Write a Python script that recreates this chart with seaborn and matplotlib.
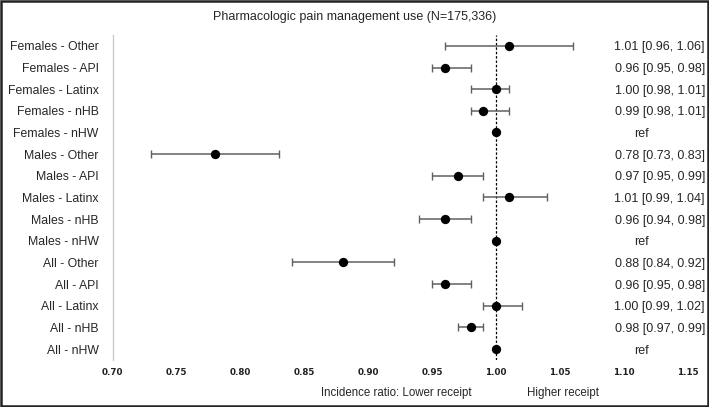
import numpy as np
import pandas as pd
import matplotlib
matplotlib.use("Agg")
import matplotlib.pyplot as plt
import matplotlib.transforms as mtransforms
import seaborn as sns

labels = ['Females - Other', 'Females - API', 'Females - Latinx', 'Females - nHB', 'Females - nHW',
          'Males - Other', 'Males - API', 'Males - Latinx', 'Males - nHB', 'Males - nHW',
          'All - Other', 'All - API', 'All - Latinx', 'All - nHB', 'All - nHW']
ratio = [1.01, 0.96, 1.00, 0.99, 1.00, 0.78, 0.97, 1.01, 0.96, 1.00, 0.88, 0.96, 1.00, 0.98, 1.00]
lower = [0.96, 0.95, 0.98, 0.98, np.nan, 0.73, 0.95, 0.99, 0.94, np.nan, 0.84, 0.95, 0.99, 0.97, np.nan]
upper = [1.06, 0.98, 1.01, 1.01, np.nan, 0.83, 0.99, 1.04, 0.98, np.nan, 0.92, 0.98, 1.02, 0.99, np.nan]
xticks = [0.70, 0.75, 0.80, 0.85, 0.90, 0.95, 1.00, 1.05, 1.10, 1.15]

df = pd.DataFrame({'label': labels, 'ratio': ratio, 'lower': lower, 'upper': upper})
df['row'] = np.arange(len(df))

sns.set_style("white")
plt.rcParams['font.family'] = ['Liberation Sans', 'DejaVu Sans']

fig = plt.figure(figsize=(7.09, 4.07), dpi=100)
ax = fig.add_axes([0.159, 0.1155, 0.811, 0.7985])

# confidence intervals
ci = df.dropna()
ax.errorbar(ci['ratio'], ci['row'],
            xerr=[ci['ratio'] - ci['lower'], ci['upper'] - ci['ratio']],
            fmt='none', ecolor='#606060', elinewidth=1.1, capsize=3, capthick=1, zorder=2)
ax.axvline(1.0, color='black', linestyle=(0, (2, 1.5)), linewidth=0.9, zorder=1)
sns.scatterplot(data=df, x='ratio', y='row', color='black', s=45, edgecolor='black',
                linewidth=0, ax=ax, zorder=3)

ax.set_xlim(0.70, 1.15)
ax.set_ylim(14.5, -0.5)
ax.set_xticks(xticks)
ax.set_xticklabels([f'{t:.2f}' for t in xticks], fontsize=6.3, fontweight='bold',
                   family='DejaVu Sans', color='#222222')
ax.set_yticks(df['row'])
ax.set_yticklabels(df['label'], fontsize=8.8)
ax.tick_params(axis='x', length=0, pad=6)
ax.tick_params(axis='y', length=0, pad=10)
ax.set_xlabel('')
ax.set_ylabel('')
for side in ['top', 'right', 'bottom']:
    ax.spines[side].set_visible(False)
ax.spines['left'].set_color('#cccccc')
ax.spines['left'].set_linewidth(1)

# estimate text on the right
trans = mtransforms.blended_transform_factory(fig.transFigure, ax.transData)
for _, r in df.iterrows():
    if np.isnan(r['lower']):
        ax.text(641 / 709, r['row'], 'ref', transform=trans, ha='center',
                va='center_baseline', fontsize=9)
    else:
        txt = f"{r['ratio']:.2f} [{r['lower']:.2f}, {r['upper']:.2f}]"
        ax.text(705 / 709, r['row'], txt, transform=trans, ha='right',
                va='center_baseline', fontsize=9)

fig.text(355 / 709, 1 - 17 / 407, 'Pharmacologic pain management use (N=175,336)',
         ha='center', va='center', fontsize=9)
fig.text(472 / 709, 1 - 393 / 407, 'Incidence ratio: Lower receipt', ha='right',
         va='center', fontsize=8.3)
fig.text(527 / 709, 1 - 393 / 407, 'Higher receipt', ha='left', va='center', fontsize=8.3)

# figure border
fig.patches.append(plt.Rectangle((0.002, 0.003), 0.996, 0.994, transform=fig.transFigure,
                                 fill=False, edgecolor='#222222', linewidth=1.8))

fig.savefig('out.png', dpi=100)
